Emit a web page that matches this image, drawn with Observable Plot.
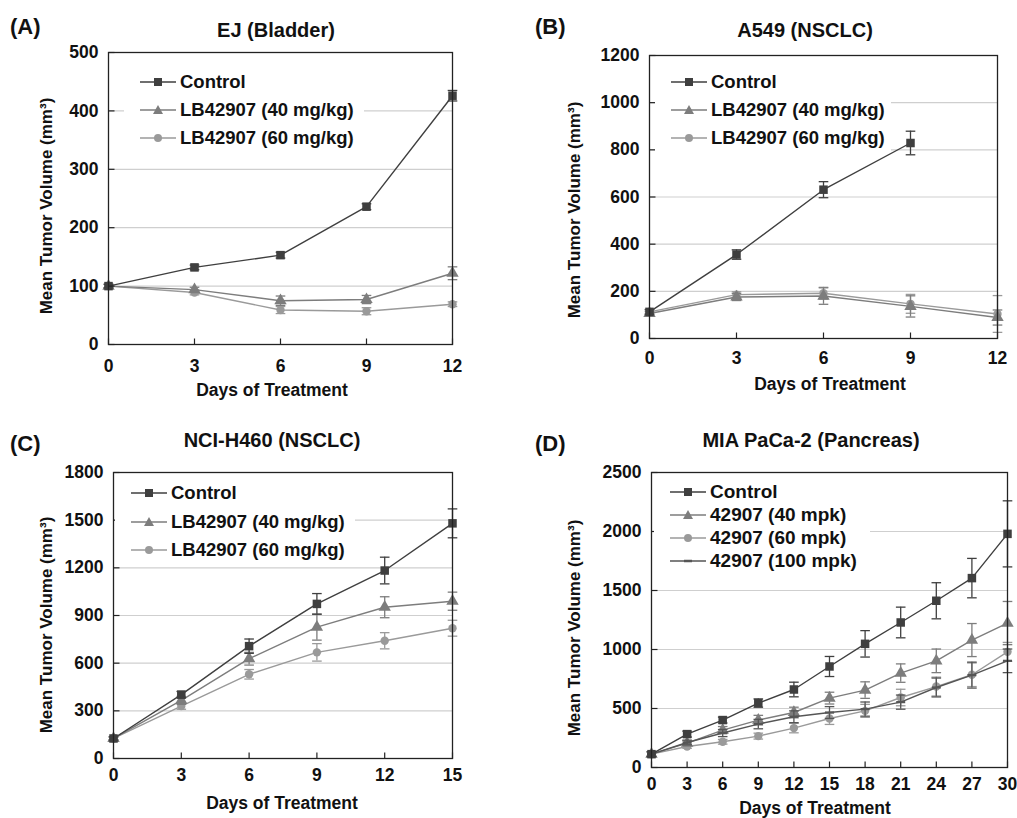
<!DOCTYPE html>
<html>
<head>
<meta charset="utf-8">
<script src="https://cdn.jsdelivr.net/npm/d3@7"></script>
<script src="https://cdn.jsdelivr.net/npm/@observablehq/plot@0.6"></script>
<style>
  html, body { margin: 0; padding: 0; background: #fff; }
  #page { position: relative; width: 1017px; height: 818px; overflow: hidden; font-family: "Liberation Sans", Arial, sans-serif; font-weight: bold; color: #111; }
  .abs { position: absolute; white-space: nowrap; }
  .c { transform: translate(-50%, -50%); }
  .rot { transform: translate(-50%, -50%) rotate(-90deg); }
  .panel { position: absolute; }
  .legend { position: absolute; background: #fff; padding-left: 16px; box-sizing: border-box; }
  .legend .row { display: flex; align-items: center; white-space: nowrap; }
  .legend svg { display: block; margin-right: 4px; flex: none; }
</style>
</head>
<body>
<div id="page"></div>
<script>
// ---------- DATA ----------
const daysA = [0, 3, 6, 9, 12];
const aControl = [100, 132, 153, 236, 426];
const aControlErr = [3, 4, 5, 5, 9];
const a40 = [100, 94, 75, 77, 122];
const a40Err = [3, 4, 8, 7, 11];
const a60 = [100, 89, 59, 57, 69];
const a60Err = [3, 4, 6, 6, 4];

const daysBControl = [0, 3, 6, 9];
const daysB = [0, 3, 6, 9, 12];
const bControl = [113, 356, 631, 829];
const bControlErr = [10, 20, 34, 50];
const b40 = [106, 176, 180, 136, 89];
const b40Err = [8, 15, 35, 45, 32];
const b60 = [113, 186, 192, 147, 104];
const b60Err = [8, 12, 25, 40, 78];

const daysC = [0, 3, 6, 9, 12, 15];
const cControl = [126, 402, 707, 973, 1183, 1480];
const cControlErr = [10, 20, 45, 65, 84, 91];
const c40 = [126, 366, 628, 827, 952, 990];
const c40Err = [10, 25, 40, 82, 66, 57];
const c60 = [126, 330, 530, 668, 741, 820];
const c60Err = [10, 20, 30, 55, 51, 50];

const daysD = [0, 3, 6, 9, 12, 15, 18, 21, 24, 27, 30];
const dControl = [113, 283, 402, 546, 661, 856, 1048, 1229, 1413, 1605, 1980];
const dControlErr = [20, 25, 25, 35, 62, 85, 112, 130, 153, 167, 280];
const d40 = [113, 207, 317, 402, 466, 588, 656, 800, 904, 1080, 1224];
const d40Err = [20, 20, 30, 40, 45, 50, 70, 78, 100, 140, 183];
const d60 = [113, 178, 218, 266, 334, 415, 480, 593, 686, 786, 980];
const d60Err = [20, 15, 20, 25, 40, 50, 55, 70, 80, 100, 80];
const d100 = [113, 212, 292, 368, 430, 466, 495, 554, 678, 783, 904];
const d100Err = [20, 20, 30, 40, 50, 50, 60, 60, 80, 110, 100];

const yTicksA = [0, 100, 200, 300, 400, 500];
const yTicksB = [0, 200, 400, 600, 800, 1000, 1200];
const yTicksC = [0, 300, 600, 900, 1200, 1500, 1800];
const yTicksD = [0, 500, 1000, 1500, 2000, 2500];

const namesLB = ["Control", "LB42907 (40 mg/kg)", "LB42907 (60 mg/kg)"];
const namesD = ["Control", "42907 (40 mpk)", "42907 (60 mpk)", "42907 (100 mpk)"];
const titles = ["EJ (Bladder)", "A549 (NSCLC)", "NCI-H460 (NSCLC)", "MIA PaCa-2 (Pancreas)"];
const letters = ["(A)", "(B)", "(C)", "(D)"];
const yTitle = "Mean Tumor Volume (mm³)";
const xTitle = "Days of Treatment";

// ---------- STYLES ----------
const styles = {
  control: {color: "#3f3f3f", symbol: "square", r: 4.8},
  d40: {color: "#7d7d7d", symbol: "triangle", r: 4.6},
  d60: {color: "#9a9a9a", symbol: "circle", r: 4.2},
  d100: {color: "#555555", symbol: "dash", r: 4}
};

const cap = {draw(ctx) { ctx.moveTo(-4.8, 0); ctx.lineTo(4.8, 0); }};
const dash = {draw(ctx) { ctx.moveTo(-4.5, 0); ctx.lineTo(4.5, 0); }};
const tickRight = {draw(ctx) { ctx.moveTo(0, 0); ctx.lineTo(6, 0); }};
const tickUp = {draw(ctx) { ctx.moveTo(0, 0); ctx.lineTo(0, -6); }};

function rows(days, vals, errs) {
  return days.map((d, i) => ({x: d, y: vals[i], lo: vals[i] - errs[i], hi: vals[i] + errs[i]}));
}

function seriesMarks(data, st) {
  const m = [
    Plot.ruleX(data, {x: "x", y1: "lo", y2: "hi", stroke: st.color, strokeWidth: 1.3}),
    Plot.dot(data, {x: "x", y: "hi", symbol: cap, fill: "none", stroke: st.color, strokeWidth: 1.3}),
    Plot.dot(data, {x: "x", y: "lo", symbol: cap, fill: "none", stroke: st.color, strokeWidth: 1.3}),
    Plot.line(data, {x: "x", y: "y", stroke: st.color, strokeWidth: 1.4})
  ];
  if (st.symbol === "dash") {
    m.push(Plot.dot(data, {x: "x", y: "y", symbol: dash, fill: "none", stroke: st.color, strokeWidth: 2.2}));
  } else {
    m.push(Plot.dot(data, {x: "x", y: "y", symbol: st.symbol, r: st.r, fill: st.color, stroke: "none"}));
  }
  return m;
}

function makePanel(cfg) {
  const marks = [
    Plot.ruleY(cfg.yTicks.filter(v => v > cfg.yTicks[0] && v < cfg.yTicks[cfg.yTicks.length - 1]), {stroke: "#cfcfcf", strokeWidth: 1.2}),
    ...cfg.series.flatMap(s => seriesMarks(s.data, s.style)),
    Plot.dot(cfg.yTicks, {y: d => d, frameAnchor: "left", symbol: tickRight, fill: "none", stroke: "#222", strokeWidth: 1.2}),
    Plot.dot(cfg.xTicks, {x: d => d, frameAnchor: "bottom", symbol: tickUp, fill: "none", stroke: "#222", strokeWidth: 1.2}),
    Plot.frame({stroke: "#222", strokeWidth: 1.3})
  ];
  const svg = Plot.plot({
    width: cfg.width, height: cfg.height,
    marginLeft: cfg.ml, marginRight: cfg.mr, marginTop: cfg.mt, marginBottom: cfg.mb,
    style: {fontFamily: '"Liberation Sans", Arial, sans-serif', fontSize: "17.5px", fontWeight: "bold", color: "#111", background: "transparent", overflow: "visible"},
    x: {domain: [cfg.xTicks[0], cfg.xTicks[cfg.xTicks.length - 1]], ticks: cfg.xTicks, tickFormat: d => String(d), tickSize: 0, tickPadding: cfg.xpad, label: null},
    y: {domain: [cfg.yTicks[0], cfg.yTicks[cfg.yTicks.length - 1]], ticks: cfg.yTicks, tickFormat: d => String(d), tickSize: 0, tickPadding: 10, label: null},
    marks
  });
  const wrap = document.createElement("div");
  wrap.className = "panel";
  wrap.style.left = cfg.left + "px";
  wrap.style.top = cfg.top + "px";
  wrap.appendChild(svg);
  return wrap;
}

function text(str, x, y, size, cls) {
  const d = document.createElement("div");
  d.className = "abs " + cls;
  d.style.left = x + "px";
  d.style.top = y + "px";
  d.style.fontSize = size + "px";
  d.textContent = str;
  return d;
}

function glyph(st) {
  const ns = "http://www.w3.org/2000/svg";
  const s = document.createElementNS(ns, "svg");
  s.setAttribute("width", 36); s.setAttribute("height", 14);
  const l = document.createElementNS(ns, "line");
  l.setAttribute("x1", 0); l.setAttribute("x2", 36); l.setAttribute("y1", 7); l.setAttribute("y2", 7);
  l.setAttribute("stroke", st.color); l.setAttribute("stroke-width", 1.5);
  s.appendChild(l);
  let p;
  if (st.symbol === "square") {
    p = document.createElementNS(ns, "rect");
    p.setAttribute("x", 14); p.setAttribute("y", 3); p.setAttribute("width", 8); p.setAttribute("height", 8);
    p.setAttribute("fill", st.color);
  } else if (st.symbol === "triangle") {
    p = document.createElementNS(ns, "path");
    p.setAttribute("d", "M18,2 L23,11 L13,11 Z"); p.setAttribute("fill", st.color);
  } else if (st.symbol === "circle") {
    p = document.createElementNS(ns, "circle");
    p.setAttribute("cx", 18); p.setAttribute("cy", 7); p.setAttribute("r", 4); p.setAttribute("fill", st.color);
  } else {
    p = document.createElementNS(ns, "line");
    p.setAttribute("x1", 14); p.setAttribute("x2", 22); p.setAttribute("y1", 7); p.setAttribute("y2", 7);
    p.setAttribute("stroke", st.color); p.setAttribute("stroke-width", 2.5);
  }
  s.appendChild(p);
  return s;
}

function legend(names, sts, left, top, width, rowH, size) {
  const d = document.createElement("div");
  d.className = "legend";
  d.style.left = left + "px"; d.style.top = top + "px"; d.style.width = width + "px";
  d.style.fontSize = size + "px";
  names.forEach((n, i) => {
    const r = document.createElement("div");
    r.className = "row";
    r.style.height = rowH + "px";
    r.appendChild(glyph(sts[i]));
    const t = document.createElement("span");
    t.textContent = n;
    r.appendChild(t);
    d.appendChild(r);
  });
  return d;
}

const page = document.getElementById("page");
const S = styles;
const lbStyles = [S.control, S.d40, S.d60];

page.appendChild(makePanel({
  left: 0, top: 40, width: 470, height: 340, ml: 108, mr: 18, mt: 12, mb: 36, xpad: 15,
  xTicks: daysA, yTicks: yTicksA,
  series: [
    {data: rows(daysA, a60, a60Err), style: S.d60},
    {data: rows(daysA, a40, a40Err), style: S.d40},
    {data: rows(daysA, aControl, aControlErr), style: S.control}
  ]
}));
page.appendChild(makePanel({
  left: 510, top: 40, width: 507, height: 340, ml: 139, mr: 20, mt: 15, mb: 42, xpad: 13,
  xTicks: daysB, yTicks: yTicksB,
  series: [
    {data: rows(daysB, b60, b60Err), style: S.d60},
    {data: rows(daysB, b40, b40Err), style: S.d40},
    {data: rows(daysBControl, bControl, bControlErr), style: S.control}
  ]
}));
page.appendChild(makePanel({
  left: 0, top: 460, width: 470, height: 358, ml: 113, mr: 18, mt: 12, mb: 60, xpad: 10,
  xTicks: daysC, yTicks: yTicksC,
  series: [
    {data: rows(daysC, c60, c60Err), style: S.d60},
    {data: rows(daysC, c40, c40Err), style: S.d40},
    {data: rows(daysC, cControl, cControlErr), style: S.control}
  ]
}));
page.appendChild(makePanel({
  left: 510, top: 460, width: 507, height: 358, ml: 141, mr: 10, mt: 12, mb: 51, xpad: 10,
  xTicks: daysD, yTicks: yTicksD,
  series: [
    {data: rows(daysD, d60, d60Err), style: S.d60},
    {data: rows(daysD, d40, d40Err), style: S.d40},
    {data: rows(daysD, d100, d100Err), style: S.d100},
    {data: rows(daysD, dControl, dControlErr), style: S.control}
  ]
}));

// Legends
page.appendChild(legend(namesLB, lbStyles, 124, 68, 240, 28, 18.5));
page.appendChild(legend(namesLB, lbStyles, 655, 68, 236, 28, 18.5));
page.appendChild(legend(namesLB, lbStyles, 115, 479, 240, 28.5, 18.5));
page.appendChild(legend(namesD, [S.control, S.d40, S.d60, S.d100], 654, 480, 216, 23, 19));

// Panel letters and titles
page.appendChild(text(letters[0], 10, 14, 22, ""));
page.appendChild(text(letters[1], 535, 14, 22, ""));
page.appendChild(text(letters[2], 10, 431, 22, ""));
page.appendChild(text(letters[3], 535, 431, 22, ""));
page.appendChild(text(titles[0], 276, 30, 20, "c"));
page.appendChild(text(titles[1], 805, 30, 20, "c"));
page.appendChild(text(titles[2], 272, 440, 20, "c"));
page.appendChild(text(titles[3], 811, 440, 20, "c"));

// Axis titles
page.appendChild(text(yTitle, 47, 206, 17, "rot"));
page.appendChild(text(yTitle, 575, 210, 17, "rot"));
page.appendChild(text(yTitle, 47, 625, 17, "rot"));
page.appendChild(text(yTitle, 575, 628, 17, "rot"));
page.appendChild(text(xTitle, 272, 390, 17.5, "c"));
page.appendChild(text(xTitle, 830, 384, 17.5, "c"));
page.appendChild(text(xTitle, 282, 803, 17.5, "c"));
page.appendChild(text(xTitle, 815, 808, 17.5, "c"));
</script>
</body>
</html>
